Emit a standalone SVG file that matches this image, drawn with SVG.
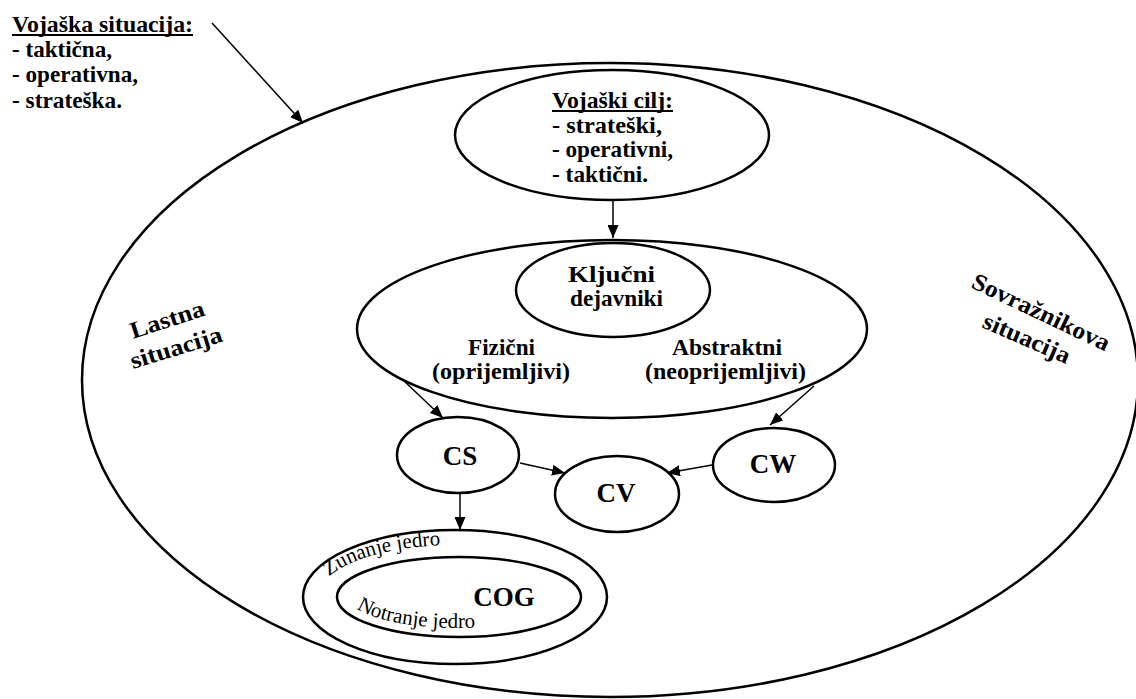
<svg xmlns="http://www.w3.org/2000/svg" width="1136" height="699" viewBox="0 0 1136 699">
<defs>
<style>
.e{fill:none;stroke:#000;stroke-width:2.5}
.c{fill:none;stroke:#000;stroke-width:1.5}
.b{font-family:'Liberation Serif','DejaVu Serif',serif;font-weight:bold;font-size:24px;fill:#000}
.l{font-family:'Liberation Serif','DejaVu Serif',serif;font-weight:bold;font-size:27px;fill:#000;text-anchor:middle}
.r{font-family:'Liberation Serif','DejaVu Serif',serif;font-size:21px;fill:#000}
.u{stroke:#000;stroke-width:1.8}
</style>
<marker id="ah" markerUnits="userSpaceOnUse" markerWidth="13" markerHeight="11" refX="13" refY="5.5" orient="auto">
<path d="M0,0 L13,5.5 L0,11 z" fill="#000"/>
</marker>
<path id="pz" d="M318,597 A137,52 0 0,1 592,597"/>
<path id="pn" d="M349,597 A110,31 0 0,0 569,597"/>
</defs>
<rect width="1136" height="699" fill="#fff"/>

<g id="situacija">
<text class="b" x="12" y="32" textLength="181" lengthAdjust="spacingAndGlyphs">Vojaška situacija:</text>
<line class="u" x1="12" y1="35" x2="193" y2="35"/>
<text class="b" x="12" y="57" textLength="100" lengthAdjust="spacingAndGlyphs">- taktična,</text>
<text class="b" x="12" y="82" textLength="126" lengthAdjust="spacingAndGlyphs">- operativna,</text>
<text class="b" x="12" y="108" textLength="110" lengthAdjust="spacingAndGlyphs">- strateška.</text>
</g>

<g id="outer">
<ellipse class="e" cx="610" cy="380" rx="528" ry="317"/>
<text class="b" transform="translate(133,339) rotate(-18)" textLength="77" lengthAdjust="spacingAndGlyphs">Lastna</text>
<text class="b" transform="translate(133,369) rotate(-17)" textLength="95" lengthAdjust="spacingAndGlyphs">situacija</text>
<text class="b" transform="translate(970,287) rotate(25.5)" textLength="150" lengthAdjust="spacingAndGlyphs">Sovražnikova</text>
<text class="b" transform="translate(981,327) rotate(23.5)" textLength="93" lengthAdjust="spacingAndGlyphs">situacija</text>
</g>

<g id="cilj">
<ellipse class="e" cx="612" cy="135" rx="157" ry="65"/>
<text class="b" x="552" y="108" textLength="121" lengthAdjust="spacingAndGlyphs">Vojaški cilj:</text>
<line class="u" x1="552" y1="111" x2="673" y2="111"/>
<text class="b" x="552" y="133" textLength="110" lengthAdjust="spacingAndGlyphs">- strateški,</text>
<text class="b" x="552" y="157" textLength="121" lengthAdjust="spacingAndGlyphs">- operativni,</text>
<text class="b" x="552" y="182" textLength="96" lengthAdjust="spacingAndGlyphs">- taktični.</text>
</g>

<g id="dejavniki">
<ellipse class="e" cx="612" cy="329" rx="255" ry="89"/>
<ellipse class="e" cx="613" cy="290" rx="97" ry="47"/>
<text class="b" x="568" y="282" textLength="87" lengthAdjust="spacingAndGlyphs">Ključni</text>
<text class="b" x="570" y="306" textLength="93" lengthAdjust="spacingAndGlyphs">dejavniki</text>
<text class="b" x="468" y="355" textLength="67" lengthAdjust="spacingAndGlyphs">Fizični</text>
<text class="b" x="432" y="379" textLength="138" lengthAdjust="spacingAndGlyphs">(oprijemljivi)</text>
<text class="b" x="672" y="355" textLength="110" lengthAdjust="spacingAndGlyphs">Abstraktni</text>
<text class="b" x="645" y="379" textLength="161" lengthAdjust="spacingAndGlyphs">(neoprijemljivi)</text>
</g>

<g id="cs">
<ellipse class="e" cx="458" cy="455" rx="61" ry="38"/>
<text class="l" x="460" y="465">CS</text>
</g>
<g id="cv">
<ellipse class="e" cx="617" cy="494" rx="62" ry="38"/>
<text class="l" x="616" y="502">CV</text>
</g>
<g id="cw">
<ellipse class="e" cx="774" cy="465" rx="61" ry="37"/>
<text class="l" x="773" y="473">CW</text>
</g>

<g id="cog">
<ellipse class="e" cx="455" cy="597" rx="152" ry="67"/>
<ellipse class="e" cx="459" cy="597" rx="122" ry="40"/>
<text class="l" x="504" y="606">COG</text>
<text class="r"><textPath href="#pz" startOffset="24">Zunanje jedro</textPath></text>
<text class="r"><textPath href="#pn" startOffset="14">Notranje jedro</textPath></text>
</g>

<g id="connectors">
<line class="c" x1="212" y1="23" x2="303" y2="123" marker-end="url(#ah)"/>
<line class="c" x1="613" y1="200" x2="613" y2="238" marker-end="url(#ah)"/>
<line class="c" x1="403" y1="380" x2="443" y2="418" marker-end="url(#ah)"/>
<line class="c" x1="814" y1="386" x2="770" y2="425" marker-end="url(#ah)"/>
<line class="c" x1="520" y1="463" x2="565" y2="473" marker-end="url(#ah)"/>
<line class="c" x1="712" y1="465" x2="667" y2="473" marker-end="url(#ah)"/>
<line class="c" x1="460" y1="493" x2="460" y2="530" marker-end="url(#ah)"/>
</g>
</svg>
